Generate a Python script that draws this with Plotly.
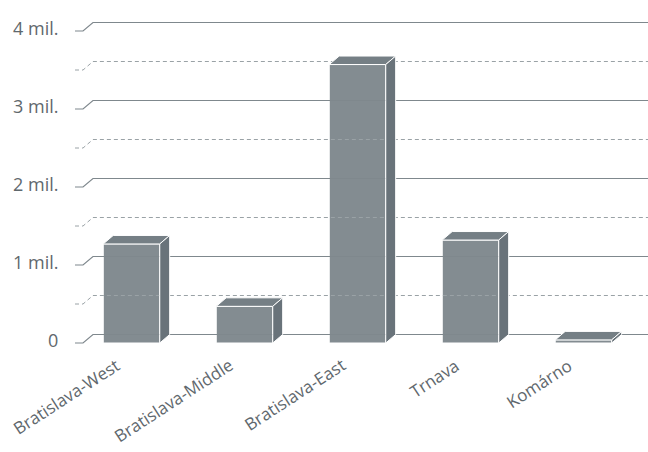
import plotly.graph_objects as go

categories = ["Bratislava-West", "Bratislava-Middle", "Bratislava-East", "Trnava", "Komárno"]
values = [1.27, 0.47, 3.57, 1.32, 0.04]  # millions
grid_values = [0, 0.5, 1, 1.5, 2, 2.5, 3, 3.5, 4]
tick_values = [0, 1, 2, 3, 4]
tick_labels = ["0", "1 mil.", "2 mil.", "3 mil.", "4 mil."]

# 3D styling parameters
BAR_W = 0.5
DX = 0.088     # depth offset in category units
DY = 0.109     # depth offset in value units
FRONT = "#838c91"
SIDE = "#69737a"
TOP = "#757f85"
TEXT = "#5f686d"
GRID = "#7f888d"
GRID_D = "#9aa2a6"

X0, X1 = -0.5, 4.571
Y0, Y1 = -0.0385, 4.141

fig = go.Figure()

# grid lines (back wall + left connector)
for g in grid_values:
    solid = float(g).is_integer()
    col = GRID if solid else GRID_D
    dash = "solid" if solid else "4px,3px"
    xs = [X0, X0 + 0.071, X0 + 0.071 + DX, X1]
    ys = [g, g, g + DY, g + DY]
    fig.add_trace(go.Scatter(x=xs, y=ys, mode="lines",
                             line=dict(color=col, width=1.2 if solid else 1, dash=dash),
                             hoverinfo="skip", showlegend=False))

# bars: front faces
xi = list(range(len(categories)))
fig.add_trace(go.Bar(x=xi, y=values, width=BAR_W, marker=dict(color=FRONT, line=dict(color="white", width=1)),
                     showlegend=False, hoverinfo="skip"))

# top and side faces
for i, v in enumerate(values):
    l = i - BAR_W / 2
    r = i + BAR_W / 2
    fig.add_trace(go.Scatter(x=[l, r, r + DX, l + DX, l], y=[v, v, v + DY, v + DY, v],
                             fill="toself", fillcolor=TOP, mode="lines",
                             line=dict(color="white", width=1), hoverinfo="skip", showlegend=False))
    fig.add_trace(go.Scatter(x=[r, r + DX, r + DX, r, r], y=[0, DY, v + DY, v, 0],
                             fill="toself", fillcolor=SIDE, mode="lines",
                             line=dict(color="white", width=1), hoverinfo="skip", showlegend=False))

annotations = []
for t, lab in zip(tick_values, tick_labels):
    annotations.append(dict(x=X0, y=t + DY * 0.4, xref="x", yref="y", text=lab, showarrow=False,
                            xanchor="right", yanchor="middle", xshift=-15,
                            font=dict(family="Open Sans", size=18, color=TEXT)))
for i, c in enumerate(categories):
    annotations.append(dict(x=i, y=-0.015, xref="x", yref="paper", text=c, showarrow=False,
                            textangle=-33, xanchor="right", yanchor="top", xshift=-5,
                            font=dict(family="Open Sans", size=17, color=TEXT)))

fig.update_layout(
    width=648, height=452,
    margin=dict(l=75, r=0, t=20, b=106),
    plot_bgcolor="white", paper_bgcolor="white",
    barmode="overlay",
    xaxis=dict(range=[X0, X1], showgrid=False, zeroline=False, showticklabels=False, ticks="", fixedrange=True),
    yaxis=dict(range=[Y0, Y1], showgrid=False, zeroline=False, showticklabels=False, ticks="", fixedrange=True),
    annotations=annotations,
)

fig.write_html("out.html", config={"displayModeBar": False})
